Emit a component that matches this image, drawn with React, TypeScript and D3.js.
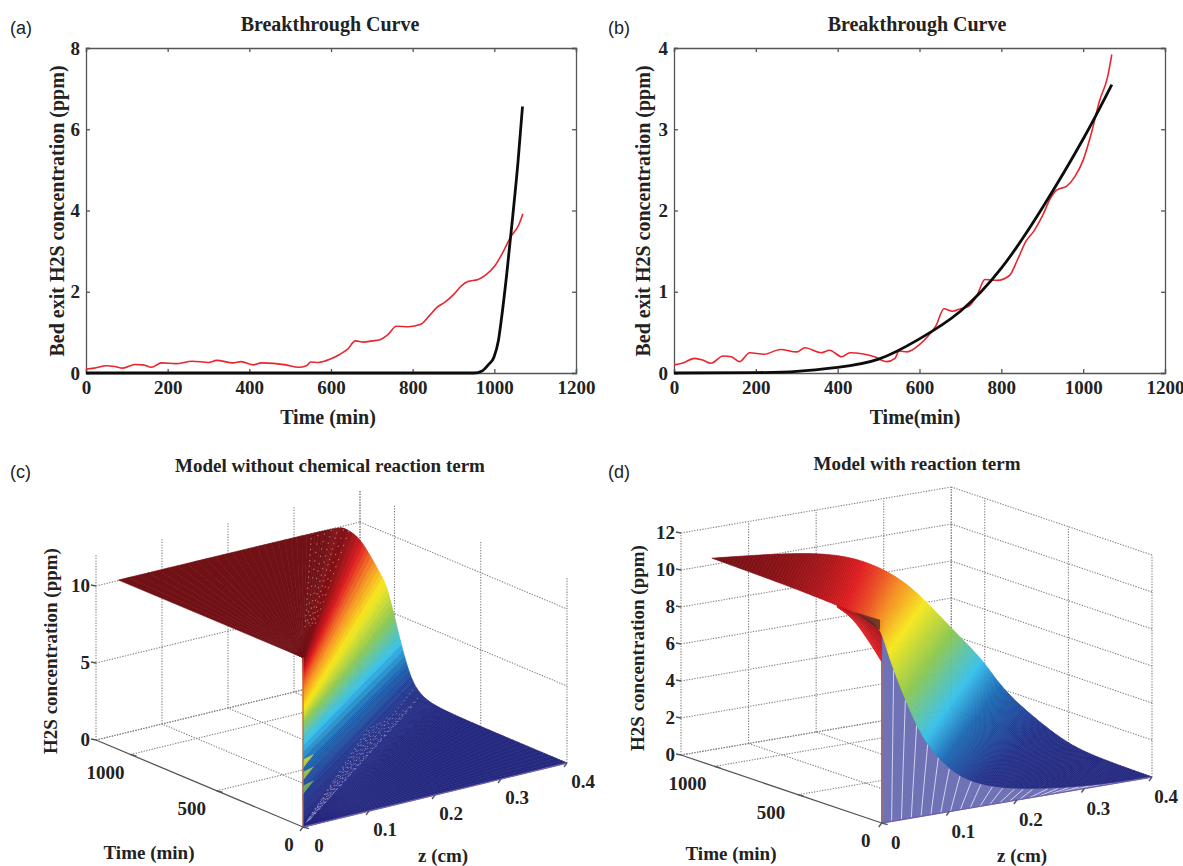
import React, { useEffect, useRef } from 'react';
import * as d3 from 'd3';

// measured outlet concentration, same in (a) and (b)
const measuredTime = [0, 20, 50, 70, 90, 120, 140, 160, 185, 220, 260, 300, 320, 360, 380, 410, 430, 490, 520, 540, 550, 570, 600, 620, 640, 660, 680, 700, 720, 740, 760, 790, 820, 840, 860, 880, 900, 920, 935, 960, 980, 1000, 1020, 1040, 1060, 1070];
const measuredConc = [0.1, 0.12, 0.18, 0.16, 0.12, 0.21, 0.2, 0.14, 0.25, 0.23, 0.29, 0.26, 0.31, 0.25, 0.28, 0.2, 0.25, 0.2, 0.14, 0.18, 0.27, 0.26, 0.35, 0.45, 0.58, 0.79, 0.76, 0.79, 0.82, 0.95, 1.15, 1.14, 1.2, 1.4, 1.62, 1.75, 1.93, 2.15, 2.25, 2.3, 2.42, 2.62, 2.95, 3.35, 3.65, 3.92];

const modelATime = [0, 950, 970, 985, 999, 1010, 1017, 1030, 1045, 1058, 1069];
const modelAConc = [0, 0, 0.05, 0.2, 0.39, 0.8, 1.3, 2.4, 3.85, 5.2, 6.56];
const modelBTime = [0, 200, 300, 400, 500, 600, 700, 800, 900, 1000, 1070];
const modelBConc = [0, 0.005, 0.02, 0.07, 0.17, 0.42, 0.76, 1.29, 2.03, 2.88, 3.55];

const timeTicks = [0, 200, 400, 600, 800, 1000, 1200];
const ticksA = [0, 2, 4, 6, 8];
const ticksB = [0, 1, 2, 3, 4];

// (c): iso-concentration lines fan out of the t=0, z=0 edge to these end points
const fanConc = [11, 11, 10.9, 10.2, 9.2, 7, 6.5, 3.6, 1.2, 0.26, 0, 0];
const fanStart = [11, 11, 10.9, 10.5, 9.8, 7.8, 7.4, 6.2, 2.6, 0.6, 0, 0];
const fanZ = [0, 0.33, 0.34, 0.36, 0.375, 0.4, 0.4, 0.4, 0.4, 0.4, 0.4, 0.4];
const fanT = [1070, 1070, 1070, 1070, 1070, 1070, 1041, 972, 909, 840, 700, 0];
const speckleZ = [0.4, 0.4, 0.39, 0.38, 0.37, 0.36, 0.35, 0.34, 0.33, 0.32, 0.31, 0.3, 0.29, 0.28];
const speckleT = [880, 850, 830, 810, 800, 790, 790, 780, 770, 760, 745, 730, 715, 700];
const speckleConc = [0.8, 0.4, 0.3, 0.2, 0.2, 0.2, 0.1, 0.1, 0.1, 0.1, 0.1, 0.1, 0.1, 0.1];
const shoulderZ = [0.29, 0.3, 0.31, 0.32, 0.33, 0.34, 0.35];
const streakConc = [4.1, 3.3, 2.4];

// (d): iso-concentration lines between the near fold and the far edge
const isoConc = [11, 10.5, 9.43, 8.15, 6.74, 4.55, 3.23, 1.97, 0.97, 0.2, 0.05, 0];
const foldZ = [0.011, 0.032, 0.078, 0.144, 0.137, 0.116, 0.104, 0.125, 0.155, 0.205, 0.3, 0.4];
const foldT = [1060, 618, 486, 593, 521, 309, 162, 127, 129, 102, 11, 0];
const edgeZ = [0.011, 0.169, 0.24, 0.289, 0.324, 0.373, 0.4, 0.4, 0.4, 0.4, 0.4, 0.4];
const edgeT = [1060, 1040, 1040, 1040, 1040, 1040, 1010, 892, 688, 490, 293, 0];
const lobeT = [267, 172, 70, 0];
const lobeConc = [10.86, 10.45, 9.5, 8.7];
const patchT = [160, 10, 10];
const patchConc = [10.9, 10.95, 10.4];

const zTicks = [0, 0.1, 0.2, 0.3, 0.4];
const tTicks = [0, 500, 1000];
const concTicksC = [0, 5, 10];
const concTicksD = [0, 2, 4, 6, 8, 10, 12];

const SERIF = '"Liberation Serif", "Times New Roman", serif';
const SANS = '"Liberation Sans", Arial, sans-serif';

const jet = d3.scaleLinear<string>()
  .domain([0, 0.8, 2.2, 3.3, 5, 6.8, 8.2, 9.5, 10.6, 11])
  .range(['#25297f', '#23318b', '#1b69b4', '#36c0ec', '#8cc850', '#f6e81c', '#f58a20', '#e01c20', '#8a1216', '#761015'])
  .interpolate(d3.interpolateRgb);

type Sel = d3.Selection<any, any, any, any>;

function label(g: Sel, x: number, y: number, s: string, size = 19, rotate = false, anchor = 'middle') {
  g.append('text')
    .attr('transform', `translate(${x},${y})${rotate ? ' rotate(-90)' : ''}`)
    .attr('text-anchor', anchor)
    .attr('font-family', SERIF)
    .attr('font-weight', 'bold')
    .attr('font-size', size)
    .attr('fill', '#222')
    .text(s);
}

function panelLabel(g: Sel, x: number, y: number, s: string) {
  g.append('text').attr('x', x).attr('y', y).attr('font-family', SANS).attr('font-size', 18).attr('fill', '#222').text(s);
}

function curvePanel(svg: Sel, opt: any) {
  const { left, right, top, bottom, yMax, yTicks, mT, mC, curve, title, xTitle, cx, tx, tag, tagX } = opt;
  const x = d3.scaleLinear().domain([0, 1200]).range([left, right]);
  const y = d3.scaleLinear().domain([0, yMax]).range([bottom, top]);
  const g = svg.append('g');

  const axes: [any, string][] = [
    [d3.axisBottom(x).tickValues(timeTicks).tickSize(-4).tickPadding(8).tickFormat(d3.format('d') as any), `translate(0,${bottom})`],
    [d3.axisTop(x).tickValues(timeTicks).tickSize(-4).tickFormat(() => ''), `translate(0,${top})`],
    [d3.axisLeft(y).tickValues(yTicks).tickSize(-4).tickPadding(6).tickFormat(d3.format('d') as any), `translate(${left},0)`],
    [d3.axisRight(y).tickValues(yTicks).tickSize(-4).tickFormat(() => ''), `translate(${right},0)`],
  ];
  axes.forEach(([axis, tr]) => {
    const a = g.append('g').attr('transform', tr).call(axis);
    a.selectAll('path,line').attr('stroke', '#555').attr('stroke-width', 1.3);
    a.selectAll('text').attr('font-family', SERIF).attr('font-weight', 'bold').attr('font-size', 19).attr('fill', '#222');
  });

  const red = d3.line<number>().curve(d3.curveMonotoneX).x(t => x(t)).y((_, i) => y(measuredConc[i]));
  g.append('path').attr('d', red(measuredTime))
    .attr('fill', 'none').attr('stroke', '#e8262c').attr('stroke-width', 1.6);
  const black = d3.line<number>().curve(curve).x(t => x(t)).y((_, i) => y(mC[i]));
  g.append('path').attr('d', black(mT))
    .attr('fill', 'none').attr('stroke', '#0c0c0c').attr('stroke-width', 2.8);

  label(g, cx, 31, title, 20);
  label(g, cx - 2, 424, xTitle, 20);
  label(g, tx, 211, 'Bed exit H2S concentration (ppm)', 20, true);
  panelLabel(g, tagX, 34, tag);
}

// projection of the 3D box onto the page; orthographic with the measured corner vectors
function makeProjection(o: any) {
  const zx = d3.scaleLinear().domain([0, 0.4]).range([0, o.zEnd[0] - o.origin[0]]);
  const zy = d3.scaleLinear().domain([0, 0.4]).range([0, o.zEnd[1] - o.origin[1]]);
  const tx = d3.scaleLinear().domain([0, 1200]).range([0, o.tEnd[0] - o.origin[0]]);
  const ty = d3.scaleLinear().domain([0, 1200]).range([0, o.tEnd[1] - o.origin[1]]);
  const cy = d3.scaleLinear().domain([0, 12]).range([0, -o.cPx * 12]);
  return (z: number, t: number, c: number): [number, number] => [
    o.origin[0] + zx(z) + tx(t),
    o.origin[1] + zy(z) + ty(t) + cy(c),
  ];
}

function box3d(g: Sel, p: any, concTicks: number[]) {
  const grid = g.append('g').attr('fill', 'none').attr('stroke', '#808080').attr('stroke-width', 1.1).attr('stroke-dasharray', '1.3 1.4');
  const seg = (a: [number, number], b: [number, number]) =>
    grid.append('line').attr('x1', a[0]).attr('y1', a[1]).attr('x2', b[0]).attr('y2', b[1]);
  zTicks.forEach(z => {
    if (z > 0) seg(p(z, 0, 0), p(z, 1200, 0));
    seg(p(z, 1200, 0), p(z, 1200, 12));
  });
  [0, 500, 1000, 1200].forEach(t => {
    if (t > 0) seg(p(0, t, 0), p(0.4, t, 0));
    if (t > 0) seg(p(0.4, t, 0), p(0.4, t, 12));
  });
  seg(p(0.4, 0, 0), p(0.4, 0, 12));
  concTicks.forEach(c => {
    seg(p(0, 1200, c), p(0.4, 1200, c));
    seg(p(0.4, 1200, c), p(0.4, 0, c));
  });
}

function axes3d(g: Sel, p: any, concTicks: number[], o: any) {
  const ax = g.append('g').attr('stroke', '#555').attr('stroke-width', 1.3).attr('fill', 'none');
  const seg = (a: [number, number], b: [number, number]) =>
    ax.append('line').attr('x1', a[0]).attr('y1', a[1]).attr('x2', b[0]).attr('y2', b[1]);
  seg(p(0, 0, 0), p(0, 1200, 0));
  seg(p(0, 0, 0), p(0.4, 0, 0)).attr('stroke', '#6f62ae');
  tTicks.forEach(t => {
    const q = p(0, t, 0);
    seg(q, [q[0] + 6, q[1] + 1.6]);
    const off = t === 0 ? o.t0Off : o.tOff;
    label(g, q[0] + off[0], q[1] + off[1], String(t));
  });
  zTicks.forEach(z => {
    const q = p(z, 0, 0);
    seg(q, [q[0] - 3, q[1] + 4]);
    label(g, q[0] + o.zOff[0], q[1] + o.zOff[1], String(z));
  });
  concTicks.forEach(c => {
    const q = p(0, 1200, c);
    seg(q, [q[0] - 5, q[1] - 1]);
    label(g, q[0] - 6, q[1] + 6, String(c), 19, false, 'end');
  });
}

// ruled sheet painted far level to near level, colour from concentration
function strips(g: Sel, p: any, conc: number[], start: number[], z0: number[], t0: number[], z1: number[], t1: number[], n: number, step = 0) {
  const c = d3.interpolateBasis(conc), s = d3.interpolateBasis(start);
  const a = d3.interpolateBasis(z0), b = d3.interpolateBasis(t0);
  const d = d3.interpolateBasis(z1), e = d3.interpolateBasis(t1);
  const us = d3.range(n + 1).map(i => i / n);
  const layer = g.append('g');
  d3.range(n).forEach(i => {
    const u = us[n - 1 - i], v = us[n - i];
    const path = d3.line()([
      p(a(u), b(u), s(u)), p(d(u), e(u), c(u)),
      p(d(v), e(v), c(v)), p(a(v), b(v), s(v)),
    ]) + 'Z';
    const mid = (c(u) + c(v)) / 2;
    const col = jet(step ? Math.round(mid / step) * step : mid);
    layer.append('path').attr('d', path).attr('fill', col).attr('stroke', col).attr('stroke-width', 0.6);
  });
}

function panelC(svg: Sel) {
  const o = { origin: [303, 827], zEnd: [567, 763], tEnd: [96, 740], cPx: 15.4, tOff: [-25, 24], t0Off: [-14, 24], zOff: [16, 25] };
  const p = makeProjection(o);
  const g = svg.append('g');
  box3d(g, p, concTicksC);
  strips(g, p, fanConc, fanStart, fanZ.map(() => 0), fanT.map(() => 0), fanZ, fanT, 240, 0.3);

  // coarse mesh streaks by the near edge
  streakConc.forEach(c => {
    const col = jet(c + 2.6);
    g.append('path').attr('d', d3.line()([p(0, 0, c + 0.28), p(0, 0, c - 0.28), p(0.03, 50, c + 0.1)]) + 'Z').attr('fill', col).attr('opacity', 0.75);
  });

  // mesh speckle on the floor and on the plateau shoulder
  const dots = g.append('g').attr('fill', 'none').attr('stroke-linecap', 'round');
  speckleZ.forEach((z, i) => {
    const a = p(z * 0.05, speckleT[i] * 0.05, 0), b = p(z, speckleT[i], speckleConc[i]);
    dots.append('line').attr('x1', a[0]).attr('y1', a[1]).attr('x2', b[0]).attr('y2', b[1])
      .attr('stroke', '#a99dcb').attr('stroke-width', 1).attr('stroke-dasharray', `0.5 ${4 + (i * 5) % 4}`).attr('stroke-dashoffset', i * 1.7).attr('opacity', 0.8);
  });
  shoulderZ.forEach((z, i) => {
    const a = p(z * 0.25, 265, 11), b = p(z, 1060, 11);
    dots.append('line').attr('x1', a[0]).attr('y1', a[1]).attr('x2', b[0]).attr('y2', b[1])
      .attr('stroke', '#d9a58c').attr('stroke-width', 1).attr('stroke-dasharray', `0.5 ${5 + (i * 3) % 4}`).attr('stroke-dashoffset', i * 2.3).attr('opacity', 0.75);
  });

  const a0 = p(0, 0, 0), a1 = p(0, 0, 11);
  g.append('line').attr('x1', a0[0]).attr('y1', a0[1]).attr('x2', a1[0]).attr('y2', a1[1]).attr('stroke', '#c5663e').attr('stroke-width', 1.2);
  axes3d(g, p, concTicksC, o);

  label(g, 330, 472, 'Model without chemical reaction term', 19);
  label(g, 149, 859, 'Time (min)', 19);
  label(g, 443, 862, 'z (cm)', 19);
  label(g, 57, 651, 'H2S concentration (ppm)', 19, true);
  panelLabel(g, 10, 478, '(c)');
}

function panelD(svg: Sel) {
  const o = { origin: [881.7, 823], zEnd: [1152, 777], tEnd: [681, 755], cPx: 18.5, tOff: [-27, 24], t0Off: [-16, 24], zOff: [14, 26] };
  const p = makeProjection(o);
  const g = svg.append('g');
  box3d(g, p, concTicksD);

  // underside of the sheet seen through the mesh
  const fz = d3.interpolateBasis(foldZ), ft = d3.interpolateBasis(foldT), fc = d3.interpolateBasis(isoConc);
  const us = d3.range(161).map(i => i / 160);
  const lower = us.map(u => p(fz(u), ft(u), fc(u))).filter(q => q[0] >= o.origin[0]);
  g.append('path').attr('d', d3.line()([p(0, 0, 0), p(0, 0, 11), ...lower, p(0.4, 0, 0)]) + 'Z')
    .attr('fill', '#7072b6').attr('stroke', '#6f6cb2').attr('stroke-width', 0.8);
  const pxToZ = d3.scaleLinear().domain([o.origin[0], o.zEnd[0]]).range([0, 0.4]);
  const tilt = d3.scaleLinear().domain([o.origin[0], o.zEnd[0]]).range([-1, 28]);
  const mesh = g.append('g').attr('stroke', '#dcdcf0').attr('stroke-width', 0.9);
  d3.range(o.origin[0] + 10, o.zEnd[0] - 30, 11).forEach(px => {
    const top = lower.filter(q => Math.abs(q[0] - px) < 3).sort((m, n) => m[1] - n[1]).pop();
    if (!top) return;
    const b = p(pxToZ(px - tilt(px)), 0, 0);
    mesh.append('line').attr('x1', b[0]).attr('y1', b[1]).attr('x2', top[0]).attr('y2', top[1] + 1);
  });

  // red lobe left of the near edge
  const lobe = g.append('g');
  const lobeLine = (k: number) => lobeT.map((t, i) => p(0, t, 10.95 - (10.95 - lobeConc[i]) * k));
  d3.range(14).forEach(i => {
    const k0 = i / 14, k1 = (i + 1) / 14;
    const col = jet(10.6 - 1.1 * k1);
    lobe.append('path').attr('d', d3.line().curve(d3.curveMonotoneX)(lobeLine(k0)) + d3.line().curve(d3.curveMonotoneX)(lobeLine(k1).reverse())!.replace('M', 'L') + 'Z')
      .attr('fill', col).attr('stroke', col).attr('stroke-width', 0.5);
  });

  strips(g, p, isoConc, isoConc, foldZ, foldT, edgeZ, edgeT, 300);

  // dark mesh patch where the sheet folds over
  g.append('path').attr('d', d3.line()(patchT.map((t, i) => p(0, t, patchConc[i]))) + 'Z')
    .attr('fill', '#55282a').attr('opacity', 0.8);

  const a0 = p(0, 0, 0), a1 = p(0, 0, 8.7);
  g.append('line').attr('x1', a0[0]).attr('y1', a0[1]).attr('x2', a1[0]).attr('y2', a1[1]).attr('stroke', '#c5663e').attr('stroke-width', 1.4);
  axes3d(g, p, concTicksD, o);

  label(g, 917, 470, 'Model with reaction term', 19);
  label(g, 731, 860, 'Time (min)', 19);
  label(g, 1022, 862, 'z (cm)', 19);
  label(g, 644, 648, 'H2S concentration (ppm)', 19, true);
  panelLabel(g, 608, 478, '(d)');
}

export default function App() {
  const ref = useRef<SVGSVGElement>(null);

  useEffect(() => {
    const svg = d3.select(ref.current);
    svg.selectAll('*').remove();

    curvePanel(svg, { left: 86, right: 576, top: 48, bottom: 373, yMax: 8, yTicks: ticksA, mT: modelATime, mC: modelAConc, curve: d3.curveMonotoneX, title: 'Breakthrough Curve', xTitle: 'Time (min)', cx: 330, tx: 64, tag: '(a)', tagX: 10 });
    curvePanel(svg, { left: 674, right: 1165, top: 48, bottom: 373, yMax: 4, yTicks: ticksB, mT: modelBTime, mC: modelBConc, curve: d3.curveNatural, title: 'Breakthrough Curve', xTitle: 'Time(min)', cx: 917, tx: 650, tag: '(b)', tagX: 608 });
    panelC(svg);
    panelD(svg);
  }, []);

  return (
    <svg ref={ref} width={1183} height={866} style={{ position: 'absolute', left: 0, top: 0, background: '#fff' }}></svg>
  );
}
